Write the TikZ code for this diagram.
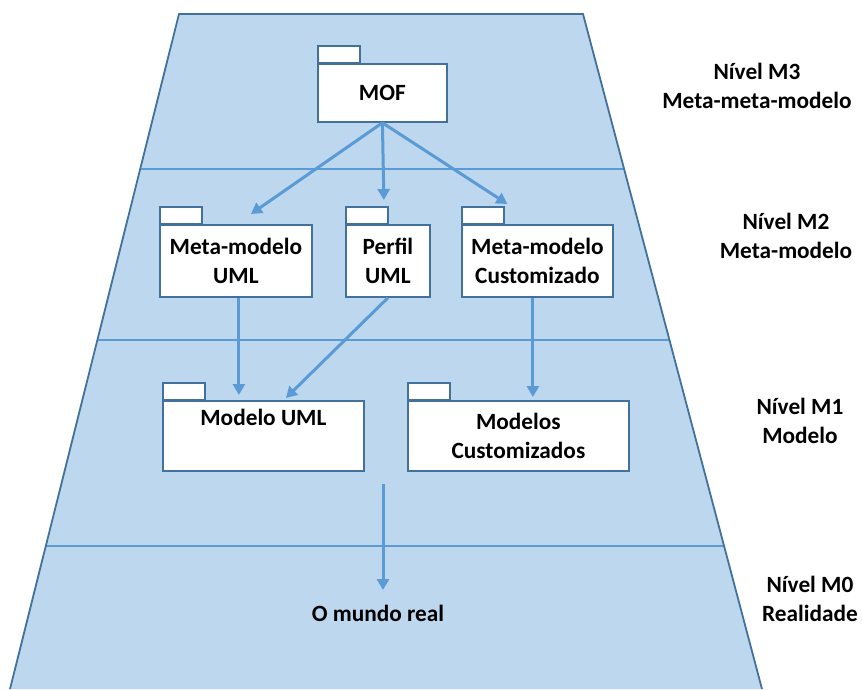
\documentclass[tikz,border=0pt]{standalone}
\usepackage{fontspec}
\setmainfont{Carlito}
\usetikzlibrary{calc,arrows.meta}
\definecolor{layerfill}{HTML}{BDD7EE}
\definecolor{layeredge}{HTML}{41719C}
\definecolor{flowblue}{HTML}{5B9BD5}
\begin{document}
\begin{tikzpicture}[x=1pt,y=-1pt,
  txt/.style={font=\fontsize{23.3}{29}\selectfont\bfseries, align=center, text=black},
  pkg/.style={txt, draw=layeredge, fill=white, line width=1.8pt, inner sep=0pt, anchor=north west},
  tab/.style={draw=layeredge, fill=white, line width=1.8pt},
  level/.style={draw=flowblue, line width=2pt},
  flow/.style={draw=flowblue, line width=3pt, -{Triangle[length=11pt,width=12pt]}}
]
\useasboundingbox (0,0) rectangle (862,689);

% layered trapezoid
\fill[layerfill] (179,14) -- (583,14) -- (762,689) -- (10,689) -- cycle;
\draw[level] (140.2,169) -- (624.1,169);
\draw[level] (97.4,340) -- (669.4,340);
\draw[level] (45.8,546) -- (724.1,546);
\draw[layeredge, line width=1.8pt] (10,689) -- (179,14) -- (583,14) -- (762,689);

% package boxes
\node[pkg, minimum width=129pt, minimum height=58pt] (mof) at (317,63) {MOF};
\node[pkg, minimum width=152pt, minimum height=72pt] (mm) at (159,224) {Meta-modelo\\UML};
\node[pkg, minimum width=84pt, minimum height=72pt] (perfil) at (345,224) {Perfil\\UML};
\node[pkg, minimum width=151pt, minimum height=72pt] (mc) at (461,224) {Meta-modelo\\Customizado};
\node[pkg, minimum width=201pt, minimum height=70pt] (muml) at (162,400) {Modelo UML\\\strut};
\node[pkg, minimum width=221pt, minimum height=70pt] (mods) at (407,400) {Modelos\\Customizados};

% package tabs
\foreach \p in {mof,mm,perfil,mc,muml,mods}
  \draw[tab] ($(\p.north west)+(0.9,0)$) rectangle ++(42,-17);

% real-world level
\node[txt] (real) at (378,613) {O mundo real};
\coordinate (m1out) at (383,484);
\coordinate (m0in) at (383,590);

% level labels
\node[txt] (l3) at (757,86) {Nível M3\\Meta-meta-modelo};
\node[txt] (l2) at (786,236) {Nível M2\\Meta-modelo};
\node[txt] (l1) at (800,421) {Nível M1\\Modelo};
\node[txt] (l0) at (810,599) {Nível M0\\Realidade};

% instantiation arrows
\draw[flow] (mof.south) -- ($(mm.north)+(15,-10)$);
\draw[flow] (mof.south) -- ($(perfil.north)+(-4,-24)$);
\draw[flow] (mof.south) -- ($(mc.north)+(-30,-20)$);
\draw[flow] ($(mm.south)+(3,0)$) -- ($(muml.north)+(-24.5,-5)$);
\draw[flow] (perfil.south) -- ($(muml.north)+(22.5,-2)$);
\draw[flow] ($(mc.south)+(-4.5,0)$) -- ($(mods.north)+(14.5,-3)$);
\draw[flow] (m1out) -- (m0in);
\end{tikzpicture}
\end{document}
